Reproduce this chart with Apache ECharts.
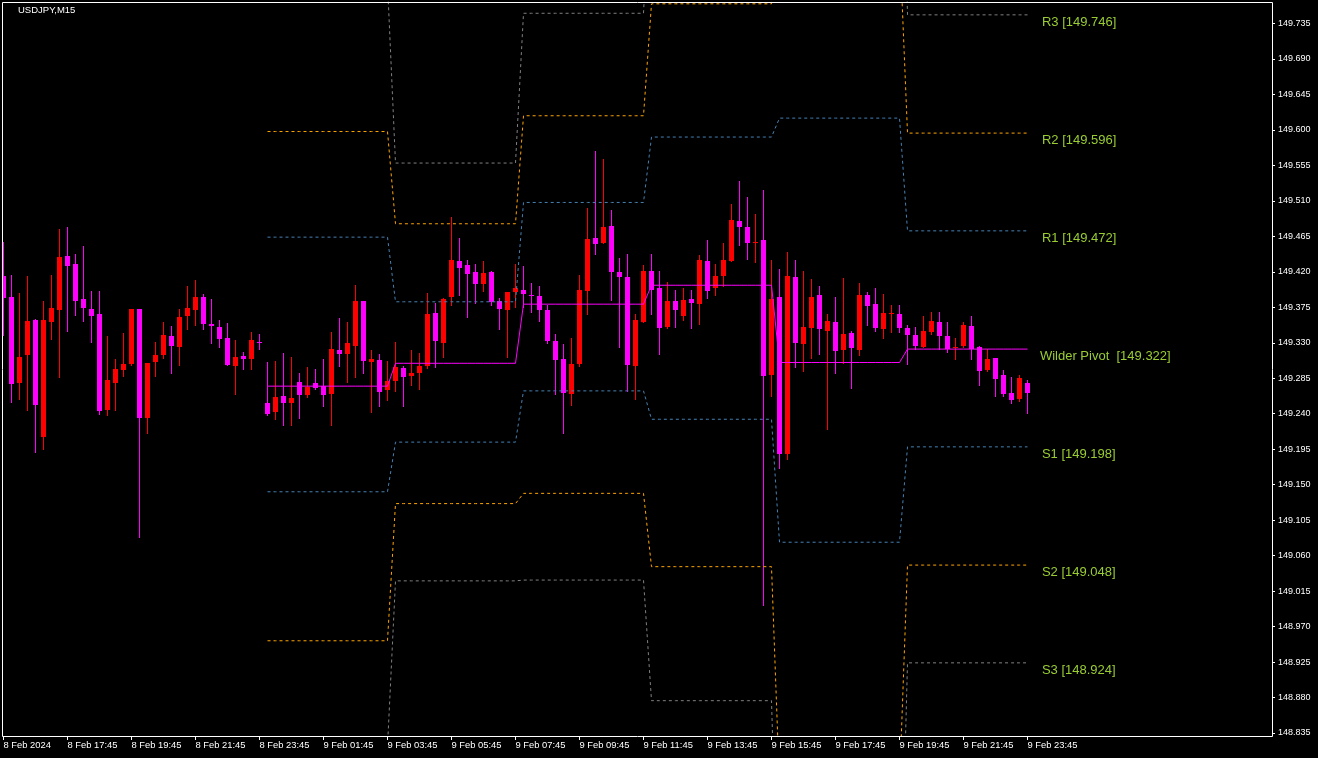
<!DOCTYPE html>
<html><head><meta charset="utf-8">
<script src="https://cdn.jsdelivr.net/npm/echarts@6/dist/echarts.min.js"></script>
<style>html,body{margin:0;padding:0;background:#000;}#chart{width:1318px;height:758px;}</style>
</head><body><div id="chart"></div>
<script>
// ---- tick labels ----
const X_TICK_BARS = [0,8,16,24,32,40,48,56,64,72,80,88,96,104,112,120,128];
const X_TICK_LABELS = ["8 Feb 2024","8 Feb 17:45","8 Feb 19:45","8 Feb 21:45","8 Feb 23:45",
  "9 Feb 01:45","9 Feb 03:45","9 Feb 05:45","9 Feb 07:45","9 Feb 09:45","9 Feb 11:45",
  "9 Feb 13:45","9 Feb 15:45","9 Feb 17:45","9 Feb 19:45","9 Feb 21:45","9 Feb 23:45"];
const Y_TICKS = [149.735,149.690,149.645,149.600,149.555,149.510,149.465,149.420,149.375,149.330,
  149.285,149.240,149.195,149.150,149.105,149.060,149.015,148.970,148.925,148.880,148.835];

// ---- USDJPY M15 candles (bar 0 = 8 Feb 15:45) ----
const OPEN = [149.415,149.388,149.279,149.314,149.359,149.210,149.357,149.372,149.440,149.430,
149.385,149.373,149.367,149.245,149.279,149.295,149.303,149.373,149.235,149.305,
149.315,149.339,149.325,149.364,149.372,149.388,149.354,149.350,149.336,149.301,
149.313,149.310,149.331,149.254,149.242,149.262,149.254,149.280,149.264,149.279,
149.275,149.265,149.321,149.316,149.326,149.383,149.305,149.308,149.270,149.282,
149.298,149.288,149.292,149.301,149.368,149.330,149.388,149.434,149.429,149.420,
149.405,149.420,149.383,149.372,149.394,149.397,149.391,149.389,149.372,149.332,
149.310,149.265,149.303,149.396,149.463,149.457,149.478,149.420,149.414,149.301,
149.357,149.421,149.400,149.350,149.383,149.364,149.386,149.379,149.434,149.400,
149.415,149.434,149.485,149.477,149.457,149.460,149.289,149.388,149.189,149.414,
149.329,149.349,149.391,149.345,149.356,149.321,149.342,149.321,149.390,149.379,
149.348,149.367,149.366,149.349,149.340,149.325,149.344,149.357,149.338,149.324,
149.326,149.351,149.325,149.295,149.311,149.289,149.266,149.259,149.279];
const HIGH = [149.458,149.416,149.393,149.415,149.360,149.383,149.416,149.474,149.477,149.443,
149.453,149.396,149.396,149.339,149.309,149.342,149.373,149.373,149.304,149.331,
149.356,149.351,149.373,149.402,149.410,149.392,149.385,149.359,149.355,149.333,
149.318,149.344,149.341,149.306,149.307,149.317,149.312,149.292,149.299,149.297,
149.309,149.344,149.361,149.357,149.403,149.383,149.321,149.316,149.307,149.331,
149.301,149.321,149.317,149.393,149.381,149.387,149.490,149.463,149.435,149.430,
149.434,149.421,149.387,149.394,149.430,149.427,149.406,149.402,149.378,149.341,
149.329,149.336,149.416,149.501,149.573,149.563,149.499,149.438,149.443,149.366,
149.429,149.443,149.421,149.407,149.397,149.399,149.397,149.441,149.460,149.430,
149.457,149.506,149.535,149.515,149.494,149.524,149.435,149.424,149.445,149.435,
149.421,149.411,149.402,149.366,149.388,149.412,149.345,149.406,149.394,149.399,
149.392,149.378,149.378,149.353,149.350,149.364,149.369,149.369,149.356,149.336,
149.356,149.364,149.326,149.322,149.311,149.295,149.286,149.289,149.283];
const LOW = [149.340,149.255,149.259,149.245,149.191,149.195,149.335,149.287,149.345,149.365,
149.358,149.331,149.240,149.239,149.245,149.288,149.302,149.084,149.215,149.288,
149.311,149.292,149.302,149.347,149.353,149.348,149.330,149.325,149.302,149.265,
149.297,149.297,149.322,149.238,149.233,149.226,149.226,149.235,149.261,149.272,
149.250,149.226,149.301,149.280,149.286,149.292,149.242,149.250,149.258,149.269,
149.250,149.277,149.272,149.298,149.299,149.312,149.378,149.391,149.363,149.381,
149.396,149.378,149.348,149.312,149.375,149.375,149.369,149.358,149.330,149.265,
149.215,149.251,149.301,149.367,149.443,149.457,149.384,149.325,149.269,149.259,
149.357,149.367,149.316,149.349,149.350,149.359,149.349,149.354,149.387,149.391,
149.402,149.434,149.454,149.436,149.432,148.997,149.263,149.171,149.183,149.299,
149.294,149.311,149.316,149.221,149.292,149.304,149.273,149.314,149.353,149.345,
149.336,149.344,149.344,149.303,149.322,149.325,149.341,149.322,149.318,149.309,
149.325,149.309,149.276,149.294,149.263,149.263,149.253,149.256,149.241];
const CLOSE = [149.387,149.278,149.312,149.358,149.251,149.359,149.374,149.439,149.428,149.383,
149.374,149.364,149.244,149.283,149.297,149.303,149.373,149.235,149.304,149.315,
149.340,149.326,149.363,149.374,149.388,149.354,149.351,149.335,149.302,149.312,
149.309,149.333,149.330,149.240,149.261,149.254,149.260,149.264,149.274,149.273,
149.264,149.322,149.316,149.330,149.383,149.307,149.309,149.268,149.281,149.299,
149.287,149.292,149.301,149.367,149.332,149.385,149.435,149.425,149.417,149.405,
149.419,149.382,149.373,149.394,149.399,149.392,149.390,149.372,149.332,149.308,
149.266,149.303,149.397,149.462,149.455,149.477,149.420,149.414,149.302,149.359,
149.421,149.397,149.349,149.383,149.372,149.384,149.381,149.435,149.396,149.415,
149.435,149.486,149.477,149.457,149.458,149.288,149.385,149.189,149.415,149.330,
149.350,149.388,149.347,149.358,149.320,149.341,149.324,149.391,149.377,149.349,
149.368,149.368,149.349,149.340,149.326,149.345,149.358,149.338,149.322,149.325,
149.353,149.322,149.294,149.309,149.284,149.265,149.257,149.285,149.266];

// ---- H4 Wilder pivot levels, one value per 4-hour segment ----
const SEG_START = [33,49,65,81,97,113];
const SEG_LEN = 16;
const R3 = [149.786,149.558,149.748,149.948,150.152,149.746];
const R2 = [149.598,149.481,149.618,149.760,149.843,149.596];
const R1 = [149.464,149.382,149.508,149.591,149.615,149.472];
const PP = [149.275,149.304,149.379,149.403,149.305,149.322];
const S1 = [149.141,149.204,149.269,149.233,149.077,149.198];
const S2 = [148.952,149.126,149.139,149.046,148.768,149.048];
const S3 = [148.818,149.028,149.029,148.876,148.540,148.924];
const LEVEL_NAMES = ['R3','R2','R1','Wilder Pivot ','S1','S2','S3'];

const LEVELS = [R3,R2,R1,PP,S1,S2,S3];
const LEVEL_COLORS = ['#808080','#FFA500','#4682B4','#FF00FF','#4682B4','#FFA500','#808080'];
const BULL = '#FF0000', BEAR = '#FF00FF';
const FONT = '"Liberation Sans", Arial, sans-serif';

const candleData = OPEN.map((o,i)=>[i,o,CLOSE[i],LOW[i],HIGH[i]]);

const levelSeries = LEVELS.map((arr,k)=>{
  const data=[];
  SEG_START.forEach((s,si)=>{ for(let j=0;j<SEG_LEN;j++) data.push([s+j, arr[si]]); });
  return {
    type:'line', data, xAxisIndex:0, yAxisIndex:0, symbol:'none', showSymbol:false,
    animation:false, silent:true, z:3, clip:true,
    lineStyle:{width:1, color:LEVEL_COLORS[k], type: k===3 ? 'solid' : [3,3]}
  };
});

const LABEL_BAR = 129.8;
const labelData = LEVELS.map((arr,k)=>[LABEL_BAR, arr[arr.length-1], k]);

const chart = echarts.init(document.getElementById('chart'), null, {renderer:'canvas'});
chart.setOption({
  backgroundColor:'#000000',
  animation:false,
  grid:{left:2, top:2, width:1270, height:734, containLabel:false},
  xAxis:{
    type:'value', min:-0.1875, max:158.5625,
    axisLine:{show:false, onZero:false}, splitLine:{show:false},
    axisTick:{show:true, customValues:X_TICK_BARS, length:4, lineStyle:{color:'#ffffff'}},
    axisLabel:{customValues:X_TICK_BARS, align:'left', margin:4.5, color:'#ffffff',
      fontFamily:FONT, fontSize:9.4,
      formatter:(v)=>{const k=X_TICK_BARS.indexOf(Math.round(v)); return k>=0?X_TICK_LABELS[k]:'';}}
  },
  yAxis:{
    type:'value', position:'right', min:148.8312, max:149.7623,
    axisLine:{show:false, onZero:false}, splitLine:{show:false},
    axisTick:{show:true, customValues:Y_TICKS, length:3, lineStyle:{color:'#ffffff'}},
    axisLabel:{customValues:Y_TICKS, margin:6, color:'#ffffff', fontFamily:FONT, fontSize:9,
      formatter:(v)=>v.toFixed(3)}
  },
  graphic:[
    {type:'rect', z:100, silent:true, shape:{x:2.5,y:2.5,width:1270,height:734},
     style:{stroke:'#ffffff', fill:'none', lineWidth:1}},
    {type:'text', z:100, left:18, top:5, silent:true,
     style:{text:'USDJPY,M15', fill:'#ffffff', font:'9.5px '+FONT}}
  ],
  series:[
    {
      type:'custom', data:candleData, z:2, clip:true, animation:false, silent:true,
      encode:{x:0, y:[1,2,3,4]},
      renderItem:(params, api)=>{
        const i=api.value(0), o=api.value(1), c=api.value(2), l=api.value(3), h=api.value(4);
        const po=api.coord([i,o]), pc=api.coord([i,c]), pl=api.coord([i,l]), ph=api.coord([i,h]);
        const color = c>o ? BULL : BEAR;
        const top=Math.round(Math.min(po[1],pc[1])), bot=Math.round(Math.max(po[1],pc[1]));
        const wx=Math.floor(po[0])+0.5;
        return {type:'group', children:[
          {type:'line', shape:{x1:wx, y1:Math.round(ph[1]), x2:wx, y2:Math.round(pl[1])+1},
           style:{stroke:color, lineWidth:1}},
          {type:'rect', shape:{x:Math.round(po[0]-2.5), y:top, width:5, height:Math.max(1,bot-top)},
           style:{fill:color}}
        ]};
      }
    },
    ...levelSeries,
    {
      type:'custom', data:labelData, z:4, clip:false, animation:false, silent:true,
      encode:{x:0, y:1},
      renderItem:(params, api)=>{
        const k=api.value(2);
        const p=api.coord([api.value(0), api.value(1)]);
        const arr=LEVELS[k];
        return {type:'text', x:p[0]+(k===3?-2:0), y:p[1]+7.5,
          style:{text:LEVEL_NAMES[k]+' ['+arr[arr.length-1].toFixed(3)+']',
            fill:'#9ACD32', font:'13px '+FONT, align:'left', verticalAlign:'middle'}};
      }
    }
  ]
});
</script></body></html>
